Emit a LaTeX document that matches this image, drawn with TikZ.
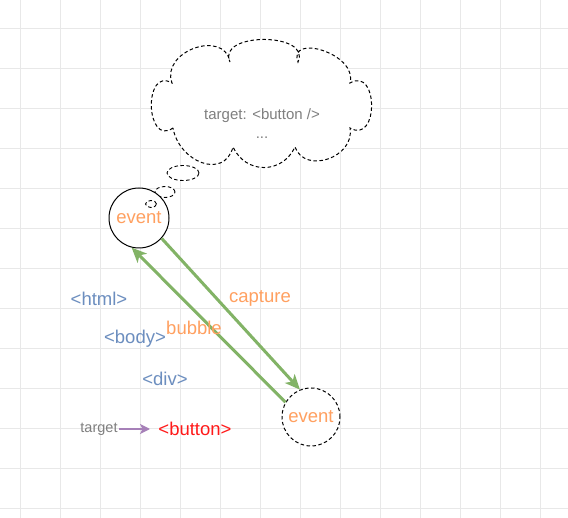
\documentclass[tikz,border=0pt]{standalone}
\usepackage{fontspec}
\setmainfont{Liberation Sans}
\usetikzlibrary{arrows.meta,shapes.geometric}
\definecolor{gridc}{HTML}{E8E8E8}
\definecolor{evorange}{HTML}{FFA060}
\definecolor{tagblue}{HTML}{6C8EBF}
\definecolor{arrgreen}{HTML}{82B366}
\definecolor{arrpurple}{HTML}{A680B8}
\definecolor{tagred}{HTML}{FF1A1A}
\definecolor{txtgray}{HTML}{7F7F7F}
\tikzset{
  evcircle/.style={circle,draw=black,fill=white,minimum size=60pt,inner sep=0pt,font=\fontsize{18.5}{22}\selectfont,text=evorange},
  tag/.style={font=\fontsize{18.5}{22}\selectfont,text=tagblue,inner sep=1pt},
  lbl/.style={font=\fontsize{18.5}{22}\selectfont,text=evorange,inner sep=1pt},
  flow/.style={draw=arrgreen,line width=3pt,-{Stealth[length=15pt,width=13pt,inset=4pt]}},
  dsh/.style={dash pattern=on 3.5pt off 2.5pt},
  thought/.style={ellipse,draw=black,fill=white,dsh,line width=0.9pt,inner sep=0pt},
}
\begin{document}
\begin{tikzpicture}[x=1pt,y=1pt]
\useasboundingbox (0,0) rectangle (568,-518);
\fill[white] (0,0) rectangle (568,-518);
% grid
\foreach \gx in {20,60,...,560} \draw[gridc,line width=0.8pt] (\gx,0) -- (\gx,-518);
\foreach \gy in {28,68,...,508} \draw[gridc,line width=0.8pt] (0,-\gy) -- (568,-\gy);
% cloud
\draw[fill=white,dsh,line width=1pt]
  (173,-128) to[out=215,in=150,looseness=1.9] (172,-83)
  to[out=110,in=100,looseness=1.4] (230,-62)
  to[out=115,in=65,looseness=1.25] (298,-62)
  to[out=110,in=75,looseness=1.4] (350,-83)
  to[out=30,in=-30,looseness=1.9] (350,-128)
  to[out=-80,in=-70,looseness=1.3] (295,-147)
  to[out=-115,in=-65,looseness=1.25] (233,-147)
  to[out=-105,in=-80,looseness=1.4] (173,-128);
\node[font=\fontsize{15}{18}\selectfont,text=txtgray,align=center] (cloudtxt) at (262,-124) {target: <button />\\[1pt]...};
% thought bubbles
\node[thought,minimum width=32pt,minimum height=15pt] (t1) at (183,-173) {};
\node[thought,minimum width=20pt,minimum height=11pt] (t2) at (165,-192) {};
% event circles
\node[evcircle,line width=1pt] (ev1) at (139,-218) {event};
\node[thought,minimum width=11pt,minimum height=7pt] (t3) at (151,-204) {};
\node[evcircle,dsh,line width=1pt,minimum size=58pt] (ev2) at (311,-417) {event};
% arrows
\draw[flow] (ev1.-42) -- (ev2.112);
\draw[flow] (ev2.150) -- (ev1.-104);
% labels
\node[lbl] (cap) at (260,-298) {capture};
\node[lbl] (bub) at (194,-328) {bubble};
\node[tag] (html) at (99,-299) {<html>};
\node[tag] (body) at (135,-339) {<body>};
\node[tag] (div) at (165,-379) {<div>};
\node[tag,text=tagred] (btn) at (195,-429) {<button>};
\node[font=\fontsize{14.5}{17}\selectfont,text=txtgray,inner sep=1pt] (tgt) at (99,-429) {target};
\draw[arrpurple,line width=1.5pt,-{Stealth[length=10pt,width=10pt,inset=2.5pt]}] (tgt.east) -- (150,-429);
\end{tikzpicture}
\end{document}
